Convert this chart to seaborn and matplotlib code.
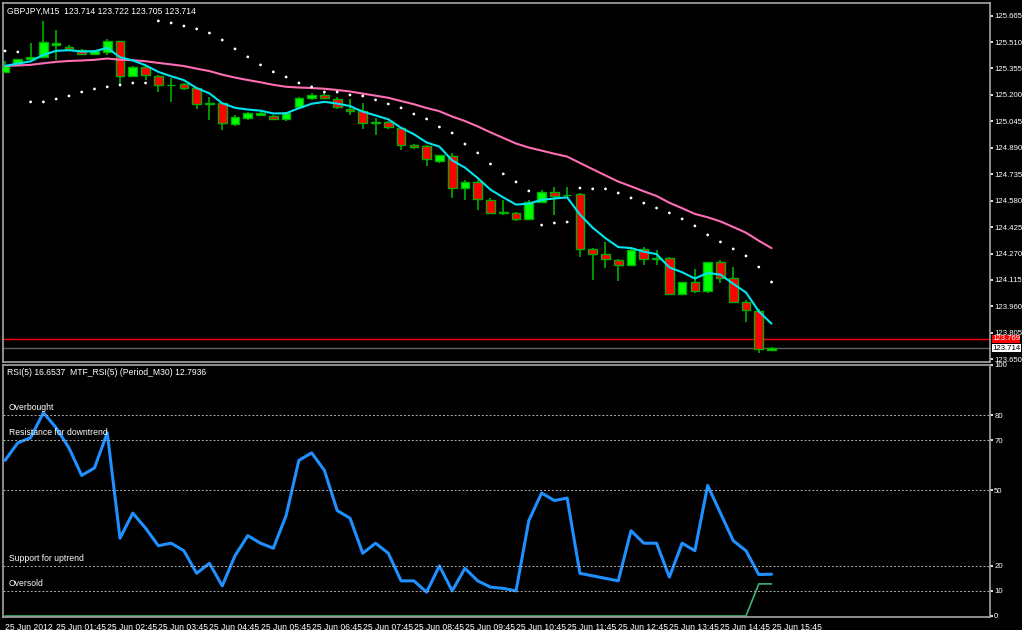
import numpy as np
import pandas as pd
import matplotlib
matplotlib.use("Agg")
import matplotlib.pyplot as plt
import seaborn as sns

opens = [125.335,125.382,125.411,125.423,125.493,125.481,125.464,125.440,125.452,125.517,125.311,125.364,125.311,125.258,125.264,125.241,125.147,125.153,125.030,125.065,125.083,125.077,125.059,125.129,125.182,125.200,125.176,125.118,125.106,125.036,125.042,125.006,124.907,124.901,124.813,124.842,124.654,124.690,124.584,124.508,124.508,124.473,124.573,124.631,124.613,124.619,124.297,124.267,124.232,124.203,124.297,124.238,124.244,124.033,124.103,124.050,124.221,124.127,123.986,123.933,123.704]
closes = [125.370,125.411,125.423,125.511,125.505,125.470,125.440,125.458,125.517,125.311,125.364,125.317,125.258,125.258,125.241,125.147,125.147,125.036,125.071,125.094,125.094,125.059,125.094,125.182,125.200,125.182,125.129,125.106,125.036,125.036,125.012,124.907,124.895,124.824,124.848,124.654,124.690,124.590,124.508,124.508,124.473,124.573,124.631,124.607,124.613,124.297,124.267,124.238,124.203,124.291,124.238,124.238,124.033,124.103,124.050,124.221,124.127,123.986,123.939,123.710,123.714]
highs = [125.399,125.411,125.505,125.634,125.581,125.493,125.470,125.464,125.528,125.517,125.370,125.370,125.317,125.300,125.270,125.241,125.188,125.160,125.080,125.100,125.100,125.085,125.100,125.188,125.210,125.210,125.185,125.176,125.153,125.065,125.050,125.012,124.915,124.905,124.850,124.860,124.700,124.700,124.595,124.584,124.515,124.585,124.640,124.660,124.660,124.625,124.300,124.338,124.240,124.300,124.310,124.290,124.250,124.040,124.180,124.060,124.230,124.190,124.000,123.945,123.722]
lows = [125.330,125.376,125.405,125.417,125.405,125.460,125.434,125.434,125.434,125.264,125.305,125.288,125.217,125.160,125.230,125.120,125.053,124.995,125.020,125.055,125.075,125.065,125.050,125.120,125.170,125.175,125.120,125.080,125.000,124.965,125.000,124.877,124.880,124.783,124.800,124.596,124.584,124.525,124.500,124.496,124.460,124.465,124.620,124.496,124.600,124.250,124.115,124.185,124.109,124.195,124.200,124.200,124.030,124.030,124.040,124.040,124.100,123.980,123.869,123.687,123.705]
sar = [125.458,125.452,125.159,125.159,125.176,125.194,125.217,125.235,125.247,125.258,125.270,125.270,125.634,125.622,125.604,125.587,125.563,125.522,125.470,125.423,125.376,125.335,125.305,125.270,125.247,125.217,125.217,125.200,125.194,125.171,125.147,125.124,125.088,125.059,125.012,124.977,124.912,124.860,124.795,124.737,124.690,124.637,124.437,124.449,124.455,124.654,124.649,124.649,124.625,124.596,124.566,124.537,124.508,124.473,124.432,124.379,124.338,124.297,124.256,124.191,124.103]
rsi = [62,69,71,81,75,67,56,59,73,31,41,35,28,29,26,17,21,12,24,32,29,27,40,62,65,58,42,39,25,29,25,14,14,9.5,20,10,19,14,11.5,11,10,38,49,46,47,17,16,15,14,34,29,29,15.5,29,26,52,41,30,26,16.5,16.65]
mtf_rsi = [0]*59 + [12.79, 12.79]
tick_labels = ["25 Jun 2012"] + [f"25 Jun {h:02d}:45" for h in range(1, 16)]
price_ticks = [125.665,125.510,125.355,125.200,125.045,124.890,124.735,124.580,124.425,124.270,124.115,123.960,123.805,123.650]
rsi_ticks = [100, 80, 70, 50, 20, 10, 0]
rsi_levels = {80: "Overbought", 70: "Resistance for downtrend", 20: "Support for uptrend", 10: "Oversold"}

n = len(closes)
df = pd.DataFrame({"i": np.arange(n), "open": opens, "close": closes, "high": highs, "low": lows,
                   "rsi": rsi, "mtf": mtf_rsi, "sar": sar})
df["fast"] = df["close"].ewm(span=5, adjust=False).mean()
df["slow"] = df["close"].ewm(span=28, adjust=False).mean()

FS = 6.2
RS = 5.6
sns.set_theme(style="dark", rc={"axes.facecolor": "black", "figure.facecolor": "black",
                                "axes.edgecolor": "#a0a0a0", "font.family": "Liberation Sans"})
fig = plt.figure(figsize=(10.22, 6.30), dpi=100)
W, H = 1022, 630
ax = fig.add_axes([3/W, 1-362/H, 987/W, 359/H])
ax2 = fig.add_axes([3/W, 1-617/H, 987/W, 252/H])

green = "#00ff00"; wick = "#00b000"
for _, r in df.iterrows():
    ax.vlines(r.i, r.low, r.high, color=wick, lw=1.2, zorder=2)
    bull = r.close >= r.open
    bot = min(r.open, r.close); h = max(abs(r.close - r.open), 0.003)
    ax.bar(r.i, h, bottom=bot, width=0.68, color=green if bull else "red",
           edgecolor=wick, linewidth=1, zorder=3)
sns.lineplot(data=df, x="i", y="slow", ax=ax, color="#ff6eb4", lw=1.5, zorder=4)
sns.lineplot(data=df, x="i", y="fast", ax=ax, color="#00e5ee", lw=1.5, zorder=5)
sns.scatterplot(data=df, x="i", y="sar", ax=ax, color="white", s=4, edgecolor="none", zorder=6)
ax.axhline(123.769, color="red", lw=1)
ax.axhline(closes[-1], color="#606060", lw=1)
ax.set_xlim(-0.16, 77.1)
ax.set_ylim(123.634, 125.739)
ax.set_xlabel(""); ax.set_ylabel("")
ax.set_xticks([])
ax.yaxis.tick_right()
ax.set_yticks(price_ticks)
ax.set_yticklabels([f"{t:.3f}" for t in price_ticks], color="white", fontsize=RS)
ax.tick_params(axis="y", colors="white", length=2, pad=1, labelcolor="white")
ax.text(0.004, 0.99, "GBPJPY,M15  123.714 123.722 123.705 123.714", transform=ax.transAxes,
        color="white", fontsize=FS, va="top")
ax.text(1.002, 123.769, "123.769", transform=ax.get_yaxis_transform(), color="white", fontsize=RS,
        va="center", bbox=dict(facecolor="red", edgecolor="none", pad=0.3))
ax.text(1.002, closes[-1], "123.714", transform=ax.get_yaxis_transform(), color="black", fontsize=RS,
        va="center", bbox=dict(facecolor="white", edgecolor="none", pad=0.3))

sns.lineplot(data=df, x="i", y="rsi", ax=ax2, color="#1e90ff", lw=2.2)
sns.lineplot(data=df, x="i", y="mtf", ax=ax2, color="#3cb371", lw=1.2)
for lv, name in rsi_levels.items():
    ax2.axhline(lv, color="#b0b0b0", lw=0.7, ls=(0, (2, 2)))
    ax2.text(0.3, lv + 1.2, name, color="white", fontsize=FS, va="bottom")
ax2.axhline(50, color="#b0b0b0", lw=0.7, ls=(0, (2, 2)))
ax2.set_xlim(-0.16, 77.1)
ax2.set_ylim(-0.4, 99.6)
ax2.set_xlabel(""); ax2.set_ylabel("")
ax2.yaxis.tick_right()
ax2.set_yticks(rsi_ticks)
ax2.set_yticklabels([str(t) for t in rsi_ticks], color="white", fontsize=RS)
ax2.tick_params(axis="y", colors="white", length=2, pad=1, labelcolor="white")
xt = list(range(0, n, 4))
ax2.set_xticks(xt)
ax2.set_xticklabels(tick_labels[:len(xt)], color="white", fontsize=FS, ha="left")
ax2.tick_params(axis="x", colors="white", length=3, pad=1, labelcolor="white")
ax2.text(0.004, 0.99, "RSI(5) 16.6537  MTF_RSI(5) (Period_M30) 12.7936", transform=ax2.transAxes,
         color="white", fontsize=FS, va="top")

fig.savefig("out.png", dpi=100, facecolor="black")
